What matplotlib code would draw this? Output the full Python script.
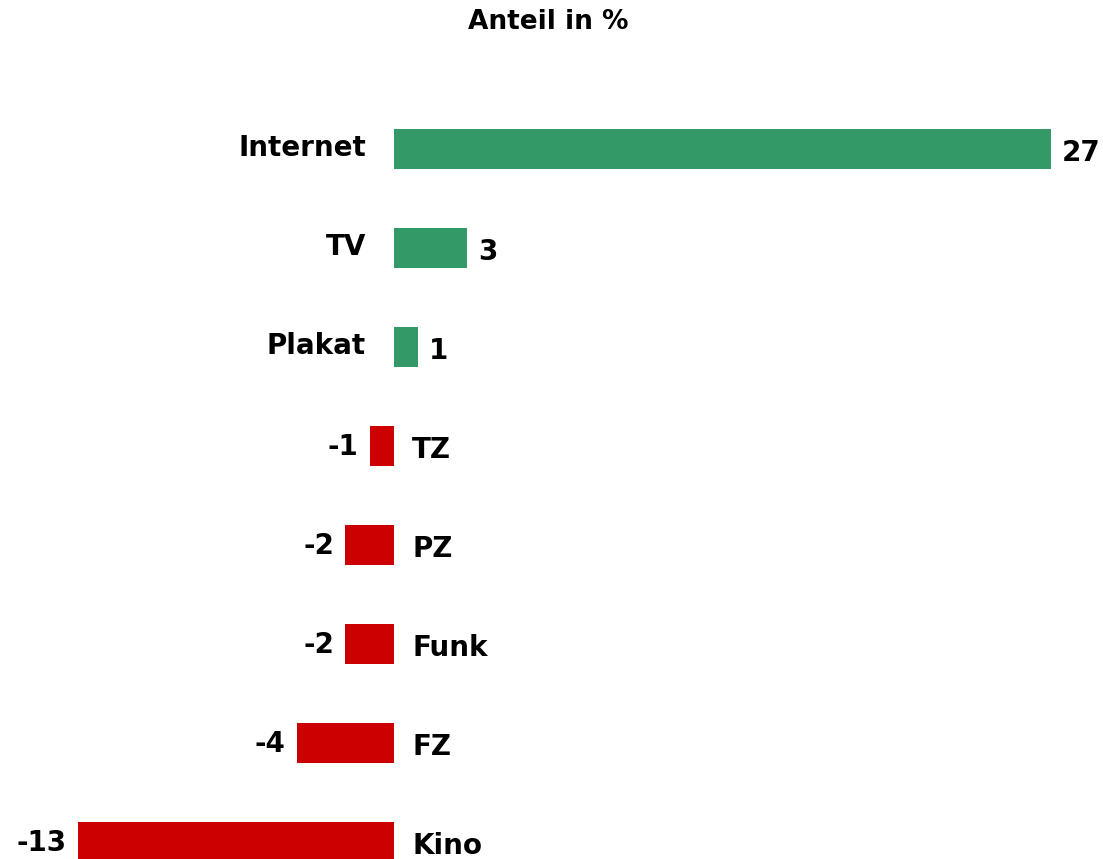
import numpy as np
import matplotlib
matplotlib.use("Agg")
from matplotlib import pyplot as plt
from matplotlib import transforms

categories = ["Internet", "TV", "Plakat", "TZ", "PZ", "Funk", "FZ", "Kino"]
values = [27, 3, 1, -1, -2, -2, -4, -13]

GREEN = "#339966"
RED = "#cc0000"

fig = plt.figure(figsize=(11.03, 8.59), dpi=100)
ax = fig.add_axes([0, 0, 1, 1])

y = np.arange(len(categories))
colours = [GREEN if v > 0 else RED for v in values]
ax.barh(y, values, height=0.41, color=colours)

# pixel offsets for the labels
def shifted(dx, dy):
    return ax.transData + transforms.ScaledTranslation(dx / 100, -dy / 100, fig.dpi_scale_trans)

font = dict(fontsize=20, fontweight="bold", family="DejaVu Sans")
for i, (cat, val) in enumerate(zip(categories, values)):
    if val > 0:
        ax.text(0, i, cat, ha="right", va="center", transform=shifted(-28, -1), **font)
        ax.text(val, i, f"{val}", ha="left", va="center", transform=shifted(11, 4), **font)
    else:
        ax.text(val, i, f"{val}", ha="right", va="center", transform=shifted(-11, 1), **font)
        ax.text(0, i, cat, ha="left", va="center", transform=shifted(18, 4), **font)

ax.set_xlim(-16.2, 29.15)
ax.set_ylim(7.17, -1.505)
ax.axis("off")

fig.text(0.497, 0.974, "Anteil in %", ha="center", va="center",
         fontsize=19, fontweight="bold", family="DejaVu Sans")

fig.savefig("out.png", dpi=100)
